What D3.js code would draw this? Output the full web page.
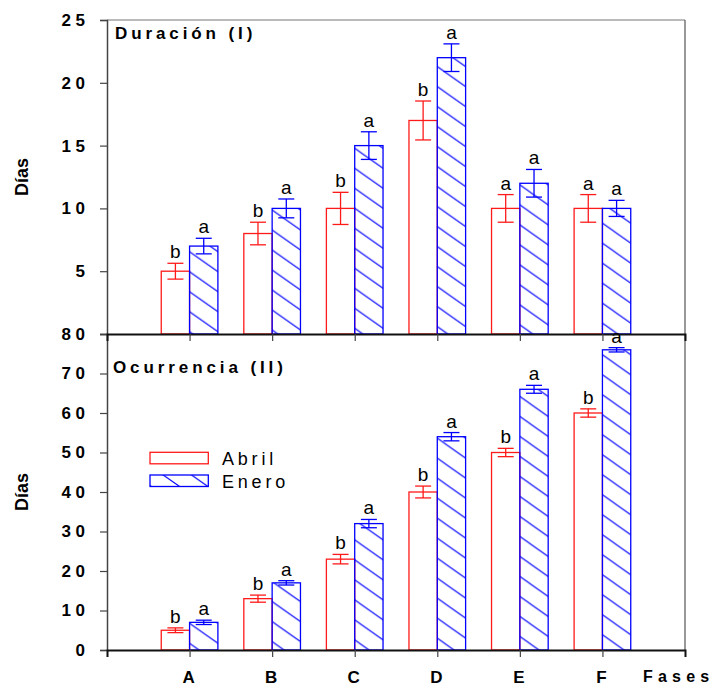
<!DOCTYPE html>
<html>
<head>
<meta charset="utf-8">
<script src="https://cdn.jsdelivr.net/npm/d3@7/dist/d3.min.js"></script>
<style>
  html, body { margin: 0; padding: 0; background: #fff; }
  svg { display: block; font-family: "Liberation Sans", Arial, sans-serif; }
</style>
</head>
<body>
<svg id="chart" width="713" height="686"></svg>
<script>
// Fases fenológicas
const fases = ["A", "B", "C", "D", "E", "F"];
const series = ["Abril", "Enero"];

// (I) Duración, días
const durAbril    = [5, 8, 10, 17, 10, 10];
const durAbrilErr = [0.63, 0.9, 1.28, 1.55, 1.1, 1.1];
const durAbrilSig = ["b", "b", "b", "b", "a", "a"];
const durEnero    = [7, 10, 15, 22, 12, 10];
const durEneroErr = [0.62, 0.75, 1.1, 1.1, 1.1, 0.64];
const durEneroSig = ["a", "a", "a", "a", "a", "a"];
const durTicks    = [5, 10, 15, 20, 25];

// (II) Ocurrencia, días
const ocuAbril    = [5, 13, 23, 40, 50, 60];
const ocuAbrilErr = [0.6, 0.9, 1.2, 1.5, 1.05, 1.05];
const ocuAbrilSig = ["b", "b", "b", "b", "b", "b"];
const ocuEnero    = [7, 17, 32, 54, 66, 76];
const ocuEneroErr = [0.55, 0.55, 1.05, 1.05, 1.0, 0.55];
const ocuEneroSig = ["a", "a", "a", "a", "a", "a"];
const ocuTicks    = [0, 10, 20, 30, 40, 50, 60, 70, 80];

const RED = "#ff1a1a";
const BLUE = "#0000ff";

const svg = d3.select("#chart");
const defs = svg.append("defs");

const left = 107, right = 685;
const x = d3.scaleLinear().domain([0, fases.length + 1]).range([left, right]);
const barW = 0.343; // in category units

const yDur = d3.scaleLinear().domain([0, 25]).range([334, 20]);
const yOcu = d3.scaleLinear().domain([0, 80]).range([650, 334]);

// diagonal hatch pattern
function hatch(id, ox, oy) {
  const w = 28.33, h = 20;
  const p = defs.append("pattern")
    .attr("id", id)
    .attr("patternUnits", "userSpaceOnUse")
    .attr("x", ox).attr("y", oy)
    .attr("width", w).attr("height", h);
  p.append("path")
    .attr("d", `M${-w},${-h}L${2 * w},${2 * h}M${-w},0L${w},${2 * h}M0,${-h}L${2 * w},${h}`)
    .attr("stroke", BLUE).attr("stroke-width", 1.1).attr("fill", "none");
}
hatch("hatchTop", x(1), 251.7);
hatch("hatchBot", x(1), 623.3);
hatch("hatchLeg", 163.3, 475);

function panel(y, abril, abrilErr, abrilSig, enero, eneroErr, eneroSig, hatchId) {
  const g = svg.append("g");
  const rows = [
    { name: "Abril", vals: abril, err: abrilErr, sig: abrilSig, off: -barW, color: RED, fill: "none" },
    { name: "Enero", vals: enero, err: eneroErr, sig: eneroSig, off: 0, color: BLUE, fill: `url(#${hatchId})` }
  ];
  rows.forEach(s => {
    const d = fases.map((f, i) => ({ f, i, v: s.vals[i], e: s.err[i], t: s.sig[i] }));
    const bw = x(barW) - x(0);
    g.selectAll(null).data(d).enter().append("rect")
      .attr("x", p => x(p.i + 1 + s.off))
      .attr("y", p => y(p.v))
      .attr("width", bw)
      .attr("height", p => y(0) - y(p.v))
      .attr("fill", s.fill)
      .attr("stroke", s.color)
      .attr("stroke-width", 1.3);
    const cx = p => x(p.i + 1 + s.off + barW / 2);
    const eb = g.selectAll(null).data(d).enter().append("g")
      .attr("stroke", s.color).attr("stroke-width", 1.3);
    eb.append("line")
      .attr("x1", cx).attr("x2", cx)
      .attr("y1", p => y(p.v + p.e)).attr("y2", p => y(p.v - p.e));
    eb.append("line")
      .attr("x1", p => cx(p) - 8).attr("x2", p => cx(p) + 8)
      .attr("y1", p => y(p.v + p.e)).attr("y2", p => y(p.v + p.e));
    eb.append("line")
      .attr("x1", p => cx(p) - 8).attr("x2", p => cx(p) + 8)
      .attr("y1", p => y(p.v - p.e)).attr("y2", p => y(p.v - p.e));
    g.selectAll(null).data(d).enter().append("text")
      .attr("x", cx)
      .attr("y", p => y(p.v + p.e) - 5)
      .attr("text-anchor", "middle")
      .attr("font-size", 19)
      .attr("fill", "#000")
      .text(p => p.t);
  });
  return g;
}

panel(yDur, durAbril, durAbrilErr, durAbrilSig, durEnero, durEneroErr, durEneroSig, "hatchTop");
panel(yOcu, ocuAbril, ocuAbrilErr, ocuAbrilSig, ocuEnero, ocuEneroErr, ocuEneroSig, "hatchBot");

// frame lines
svg.append("line").attr("x1", left).attr("x2", right).attr("y1", yDur(25)).attr("y2", yDur(25))
  .attr("stroke", "#777").attr("stroke-width", 1.2);
svg.append("line").attr("x1", right).attr("x2", right).attr("y1", yDur(25)).attr("y2", yOcu(0))
  .attr("stroke", "#555").attr("stroke-width", 1.2);

// y axes
function yAxis(y, ticks) {
  const g = svg.append("g").attr("transform", `translate(${left},0)`);
  g.call(d3.axisLeft(y).tickValues(ticks).tickSize(7).tickPadding(0).tickFormat(d3.format("d")));
  g.select(".domain").attr("stroke", "#444").attr("stroke-width", 1.5);
  g.selectAll(".tick line").attr("stroke", "#444").attr("stroke-width", 1.2);
  g.selectAll(".tick text")
    .attr("x", -22 + 4.5)
    .attr("font-family", "'Liberation Sans', Arial, sans-serif")
    .attr("font-size", 17).attr("font-weight", "bold")
    .attr("letter-spacing", 4.5).attr("fill", "#000");
  return g;
}
yAxis(yDur, durTicks);
yAxis(yOcu, ocuTicks);

// x axes
function xAxis(yPos, showLabels) {
  const g = svg.append("g").attr("transform", `translate(0,${yPos})`);
  g.call(d3.axisBottom(x).tickValues(fases.map((f, i) => i + 1)).tickSize(7).tickPadding(14)
    .tickFormat(v => showLabels ? fases[v - 1] : ""));
  g.select(".domain").attr("stroke", "#111").attr("stroke-width", 2);
  g.selectAll(".tick line").attr("stroke", "#444").attr("stroke-width", 1.2);
  g.selectAll(".tick text")
    .attr("font-family", "'Liberation Sans', Arial, sans-serif")
    .attr("font-size", 17).attr("font-weight", "bold").attr("fill", "#000")
    .attr("dx", -1.5);
  return g;
}
xAxis(yDur(0), false);
xAxis(yOcu(0), true);

// panel titles
svg.append("text").attr("x", 115).attr("y", 39)
  .attr("font-size", 17).attr("font-weight", "bold").attr("letter-spacing", 3.9)
  .text("Duración (I)");
svg.append("text").attr("x", 113).attr("y", 373)
  .attr("font-size", 17).attr("font-weight", "bold").attr("letter-spacing", 3.9)
  .text("Ocurrencia (II)");

// axis titles
[[177], [492]].forEach(([cy]) => {
  svg.append("text")
    .attr("transform", `translate(28,${cy}) rotate(-90)`)
    .attr("text-anchor", "middle")
    .attr("font-size", 18).attr("font-weight", "bold")
    .text("Días");
});
svg.append("text").attr("x", 643).attr("y", 682)
  .attr("font-size", 16).attr("font-weight", "bold").attr("letter-spacing", 5.2)
  .text("Fases");

// legend
const leg = svg.append("g");
const legRows = [
  { name: series[0], y: 452.3, stroke: RED, fill: "none" },
  { name: series[1], y: 475, stroke: BLUE, fill: "url(#hatchLeg)" }
];
leg.selectAll(null).data(legRows).enter().append("rect")
  .attr("x", 150).attr("y", d => d.y).attr("width", 58.3).attr("height", 11.5)
  .attr("fill", d => d.fill).attr("stroke", d => d.stroke).attr("stroke-width", 1.3);
leg.selectAll(null).data(legRows).enter().append("text")
  .attr("x", 222).attr("y", d => d.y + 13)
  .attr("font-size", 18).attr("letter-spacing", 3.8)
  .text(d => d.name);
</script>
</body>
</html>
